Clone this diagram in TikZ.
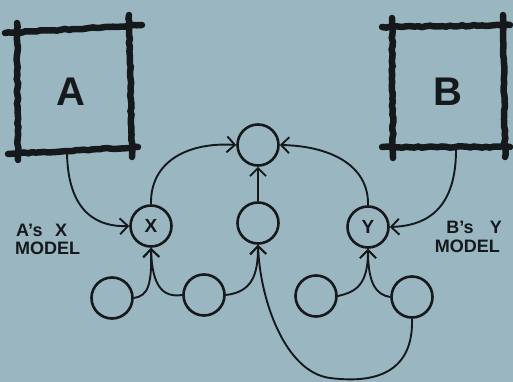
\documentclass[tikz,border=0pt]{standalone}
\usepackage{fontspec}
\setmainfont{Liberation Sans}
\usetikzlibrary{arrows.meta,decorations.pathmorphing}
\definecolor{bg}{HTML}{9AB6C1}
\definecolor{ink}{HTML}{15191C}
\begin{document}
\begin{tikzpicture}[x=1pt,y=-1pt,
  ball/.style={circle,draw=ink,line width=2.6pt,minimum size=41pt,inner sep=0pt,
    font=\bfseries\fontsize{19}{19}\selectfont,text=ink},
  conn/.style={draw=ink,line width=1.9pt,-{Straight Barb[length=8pt,width=16pt]}},
  frame/.style={draw=ink,line width=6.5pt,line cap=round,decorate,
    decoration={random steps,segment length=4pt,amplitude=0.7pt}},
  big/.style={font=\bfseries\fontsize{40}{40}\selectfont,text=ink,inner sep=0pt},
  lab/.style={font=\bfseries\fontsize{18}{16}\selectfont,text=ink,inner sep=0pt}]
\useasboundingbox (0,0) rectangle (513,382);
\fill[bg] (0,0) rectangle (513,382);

% box A
\draw[frame] (5,33) -- (142,25);
\draw[frame] (17,23) -- (18,160);
\draw[frame] (129,15) -- (132,157);
\draw[frame] (8,154) -- (138,147);
\node[big] (A) at (71,92) {A};
\coordinate (Abot) at (67,153);

% box B
\draw[frame] (382,27) -- (510,25);
\draw[frame] (392,18) -- (393,158);
\draw[frame] (503,15) -- (505,157);
\draw[frame] (382,147) -- (510,147);
\node[big] (B) at (448,92) {B};
\coordinate (Bbot) at (456,150);

% circles
\node[ball] (T) at (258,145) {};
\node[ball] (M) at (258,223) {};
\node[ball] (X) at (151,226) {X};
\node[ball] (Y) at (368,227) {Y};
\node[ball] (C1) at (112,298) {};
\node[ball] (C2) at (204,295) {};
\node[ball] (C3) at (316,296) {};
\node[ball] (C4) at (412,297) {};

% labels
\node[lab,anchor=base west] (la1) at (16,236) {A’s\hspace{0.7em}X};
\node[lab,anchor=base west] (la2) at (15,254) {MODEL};
\node[lab,anchor=base east] (lb1) at (502,233) {B’s\hspace{0.9em}Y};
\node[lab,anchor=base east] (lb2) at (500,252) {MODEL};

% connectors
\draw[conn] (Abot) .. controls (68,215) and (100,227) .. (X.west);
\draw[conn] (Bbot) .. controls (456,215) and (420,226) .. (Y.east);
\draw[conn] (X.north) .. controls (150,160) and (190,142) .. (T.west);
\draw[conn] (Y.north) .. controls (369,165) and (330,146) .. (T.east);
\draw[conn] (M.north) -- (T.south);
\draw[conn] (C1.east) .. controls (148,296) and (152,285) .. (X.south);
\draw[conn] (C2.west) .. controls (162,298) and (152,285) .. (X.south);
\draw[conn] (C2.east) .. controls (252,292) and (258,275) .. (M.south);
\draw[conn] (C4.south) .. controls (414,385) and (355,381) .. (330,378)
  .. controls (285,372) and (260,300) .. (M.south);
\draw[conn] (C3.east) .. controls (356,292) and (368,285) .. (Y.south);
\draw[conn] (C4.west) .. controls (377,295) and (368,285) .. (Y.south);
\end{tikzpicture}
\end{document}
